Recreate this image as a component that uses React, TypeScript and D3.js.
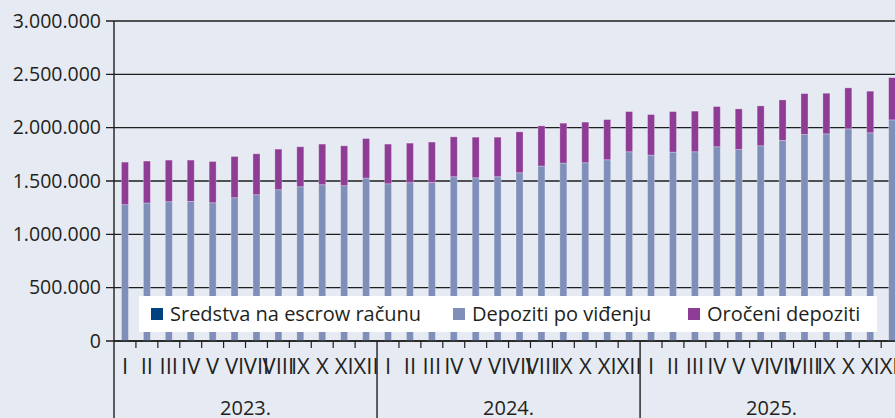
import React from 'react';
import * as d3 from 'd3';

const months = ['I', 'II', 'III', 'IV', 'V', 'VI', 'VII', 'VIII', 'IX', 'X', 'XI', 'XII'];
const years = ['2023.', '2024.', '2025.'];

const seriesNames = ['Sredstva na escrow računu', 'Depoziti po viđenju', 'Oročeni depoziti'];
const seriesColors = ['#00427f', '#7f8fba', '#8e3c96'];

const escrow = [
  0, 0, 0, 0, 0, 0, 0, 0, 0, 0, 0, 0,
  0, 0, 0, 0, 0, 0, 0, 0, 0, 0, 0, 0,
  0, 0, 0, 0, 0, 0, 0, 0, 0, 0, 0, 0,
];
const demand = [
  1278000, 1294000, 1306000, 1309000, 1296000, 1343000, 1371000, 1418000, 1446000, 1465000, 1456000, 1528000,
  1474000, 1484000, 1486000, 1540000, 1530000, 1540000, 1577000, 1640000, 1668000, 1671000, 1699000, 1774000,
  1743000, 1771000, 1774000, 1821000, 1795000, 1830000, 1880000, 1936000, 1942000, 1989000, 1952000, 2073000,
];
const term = [
  399000, 393000, 390000, 387000, 387000, 387000, 384000, 381000, 375000, 381000, 374000, 370000,
  372000, 371000, 379000, 374000, 381000, 371000, 384000, 377000, 374000, 381000, 377000, 377000,
  380000, 380000, 381000, 377000, 381000, 374000, 380000, 383000, 381000, 384000, 390000, 396000,
];
const yTicks = [0, 500000, 1000000, 1500000, 2000000, 2500000, 3000000];

const W = 895;
const H = 418;
const left = 114;
const step = 21.92;
const top = 21;
const base = 341;
const font = '"Open Sans", sans-serif';
const textColor = '#231f20';

const App: React.FC = () => {
  const idx = d3.range(demand.length);
  const x = d3.scaleBand<number>().domain(idx).range([left, left + step * idx.length]).padding(0);
  const y = d3.scaleLinear().domain([0, 3000000]).range([base, top]);
  const barW = x.bandwidth() * 0.32;

  const rows = idx.map(i => ({ escrow: escrow[i], demand: demand[i], term: term[i] }));
  const stack = d3.stack<{ escrow: number; demand: number; term: number }>().keys(['escrow', 'demand', 'term']);
  const layers = stack(rows);

  const fmt = (v: number) => d3.format(',')(v).replace(/,/g, '.');

  const legendX = [151, 453, 688];

  return (
    <svg width={W} height={H} style={{ position: 'absolute', left: 0, top: 0, display: 'block', overflow: 'hidden', background: '#e6eaf2' }}>
      <rect x={0} y={0} width={W} height={H} fill="#e6eaf2" />
      {yTicks.map(t => (
        <g key={t}>
          <line x1={left - 8} x2={W} y1={y(t)} y2={y(t)} stroke="#1e1e1e" strokeWidth={1.4} />
          <text x={left - 13} y={y(t)} dy="0.35em" textAnchor="end" fontFamily={font} fontSize={19.5} fill={textColor}>
            {fmt(t)}
          </text>
        </g>
      ))}
      {layers.map((layer, li) => (
        <g key={li} fill={seriesColors[li]}>
          {layer.map((d, i) => {
            const h = y(d[0]) - y(d[1]);
            if (h <= 0) return null;
            return (
              <rect key={i} x={(x(i) as number) + (x.bandwidth() - barW) / 2} y={y(d[1])} width={barW} height={h}
                stroke="rgba(255,255,255,0.35)" strokeWidth={0.8} />
            );
          })}
        </g>
      ))}
      <rect x={139} y={296} width={738} height={36} fill="#ffffff" />
      {seriesNames.map((n, i) => (
        <g key={n}>
          <rect x={legendX[i]} y={308} width={12} height={12} fill={seriesColors[i]} />
          <text x={legendX[i] + 19} y={321} fontFamily={font} fontSize={20} fill={textColor}>{n}</text>
        </g>
      ))}
      <line x1={left} x2={W} y1={base} y2={base} stroke="#1e1e1e" strokeWidth={1.4} />
      <line x1={left} x2={left} y1={top} y2={H} stroke="#1e1e1e" strokeWidth={1.4} />
      {idx.map(i => (
        <g key={i}>
          {i > 0 && i % 12 !== 0 && (
            <line x1={x(i) as number} x2={x(i) as number} y1={base} y2={base + 7} stroke="#1e1e1e" strokeWidth={1.2} />
          )}
          <text x={(x(i) as number) + x.bandwidth() / 2} y={374} textAnchor="middle" fontFamily={font} fontSize={22} fill={textColor}>
            {months[i % 12]}
          </text>
        </g>
      ))}
      {years.map((yr, k) => {
        const x0 = x(k * 12) as number;
        return (
          <g key={yr}>
            {k > 0 && <line x1={x0} x2={x0} y1={base} y2={H} stroke="#1e1e1e" strokeWidth={1.4} />}
            <text x={x0 + step * 6} y={415} textAnchor="middle" fontFamily={font} fontSize={20} fill={textColor}>{yr}</text>
          </g>
        );
      })}
    </svg>
  );
};

export default App;
